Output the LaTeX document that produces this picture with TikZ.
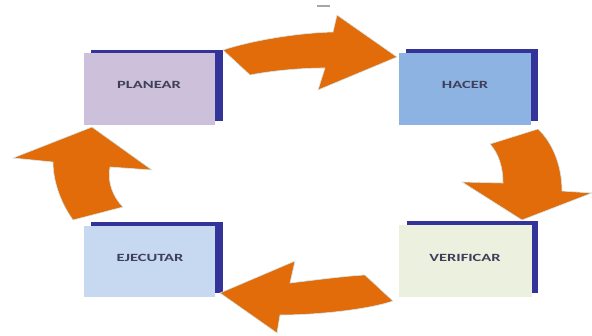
\documentclass[tikz,border=0pt]{standalone}
\usepackage{fontspec}
\usepackage{graphicx}
\newfontfamily\boxfont{Carlito}
\definecolor{frameblue}{HTML}{333399}
\definecolor{arroworange}{HTML}{E36C0A}
\definecolor{glow}{HTML}{CFE9EC}
\definecolor{planfill}{HTML}{CCC0DA}
\definecolor{hacfill}{HTML}{8DB3E2}
\definecolor{ejefill}{HTML}{C6D9F1}
\definecolor{verfill}{HTML}{EBF1DE}
\definecolor{labeltext}{HTML}{3F3F5A}
\tikzset{
  backbox/.style={fill=frameblue, draw=none},
  frontbox/.style={draw=none},
  boxlabel/.style={text=labeltext, font=\boxfont\bfseries\fontsize{11}{13}\selectfont, inner sep=0pt},
  bigarrow/.style={fill=arroworange, draw=glow, line width=0.6pt, line join=miter}
}
\begin{document}
\begin{tikzpicture}[x=1pt,y=-1pt]
\useasboundingbox (0,0) rectangle (592,335);
% small gray mark
\draw[gray!70, line width=1.2pt] (317,6) -- (330,6);
% PLANEAR
\fill[backbox] (91,50) rectangle (223,121);
\fill[frontbox, fill=planfill] (84,53) rectangle (215,125);
\node[boxlabel] (planear) at (149,85) {\scalebox{1.5}[1]{PLANEAR}};
% HACER
\fill[backbox] (406,49) rectangle (538,121);
\fill[frontbox, fill=hacfill] (399,53) rectangle (531,125);
\node[boxlabel] (hacer) at (465,85) {\scalebox{1.5}[1]{HACER}};
% EJECUTAR
\fill[backbox] (91,222) rectangle (223,293);
\fill[frontbox, fill=ejefill] (84,226) rectangle (215,297);
\node[boxlabel] (ejecutar) at (150,258) {\scalebox{1.5}[1]{EJECUTAR}};
% VERIFICAR
\fill[backbox] (407,221) rectangle (538,293);
\fill[frontbox, fill=verfill] (399,225) rectangle (532,297);
\node[boxlabel] (verificar) at (465,258) {\scalebox{1.5}[1]{VERIFICAR}};
% top arrow
\filldraw[bigarrow] (223,50) .. controls (250,41) and (295,33) .. (333,32)
  -- (337,15) -- (397,57) -- (318,90) -- (325,68)
  .. controls (300,68) and (270,71) .. (250,75) -- cycle;
% right arrow
\filldraw[bigarrow] (490,144) -- (538,129) .. controls (552,142) and (562,165) .. (562,191)
  -- (592,193) -- (522,220) -- (462,182) -- (503,183)
  .. controls (503,168) and (499,154) .. (490,144) -- cycle;
% bottom arrow
\filldraw[bigarrow] (365,275) -- (393,301) .. controls (370,309) and (320,315) .. (280,315)
  -- (277,333) -- (220,293) -- (295,261) -- (290,283)
  .. controls (315,280) and (345,276) .. (365,275) -- cycle;
% left arrow
\filldraw[bigarrow] (123,207) -- (73,220) .. controls (60,202) and (53,180) .. (53,162)
  -- (13,158) -- (92,127) -- (152,170) -- (110,167)
  .. controls (107,182) and (113,197) .. (123,207) -- cycle;
\end{tikzpicture}
\end{document}
